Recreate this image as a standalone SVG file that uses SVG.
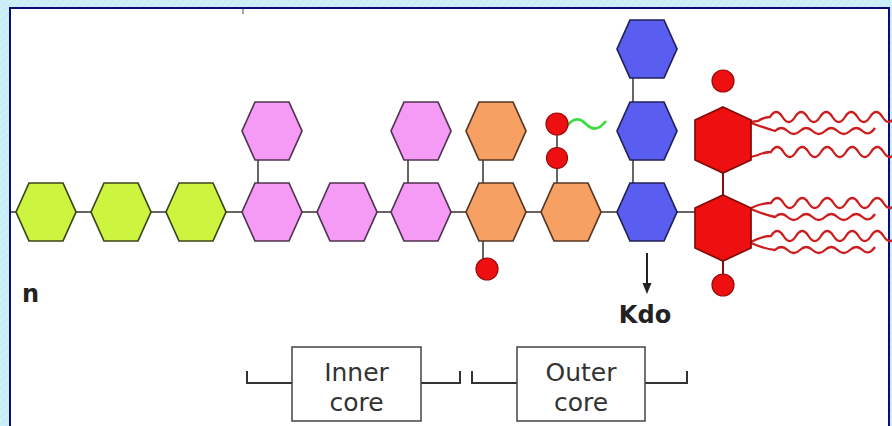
<svg xmlns="http://www.w3.org/2000/svg" width="892" height="426" viewBox="0 0 892 426">
  <defs>
    <pattern id="frameTex" width="5" height="5" patternUnits="userSpaceOnUse" patternTransform="rotate(45)">
      <rect width="5" height="5" fill="#cdeff9"/>
      <line x1="0" y1="0" x2="0" y2="5" stroke="#c0e8f5" stroke-width="1.5"/>
    </pattern>
    <polygon id="hex" points="-30,0 -17,-29 17,-29 30,0 17,29 -17,29"/>
    <polygon id="hexV" points="0,-33 28,-20 28,20 0,33 -28,20 -28,-20"/>
  </defs>
  <style>
    .link { stroke: #666; stroke-width: 2; fill: none; }
    .redlink { stroke: #8a1010; stroke-width: 2; fill: none; }
    .green { fill: #cdf53f; stroke: #3a4518; stroke-width: 1.7; }
    .pink { fill: #f59af5; stroke: #4f354f; stroke-width: 1.7; }
    .orange { fill: #f6a064; stroke: #553624; stroke-width: 1.7; }
    .blue { fill: #5a5ef0; stroke: #20205a; stroke-width: 1.7; }
    .red { fill: #ee1010; stroke: #820a0a; stroke-width: 1.7; }
    .dot { fill: #ee1010; stroke: #9a0a0a; stroke-width: 1.2; }
    .chain { stroke: #cc1e1e; stroke-width: 2.3; fill: none; }
    .label { font-family: "DejaVu Sans", "Liberation Sans", sans-serif; fill: #222; }
    .boxtext { font-family: "DejaVu Sans", "Liberation Sans", sans-serif; font-size: 25px; fill: #333; text-anchor: middle; }
    .bracket { stroke: #333; stroke-width: 2; fill: none; }
    .box { fill: #fff; stroke: #444; stroke-width: 1.5; }
  </style>

  <!-- frame and panel -->
  <rect width="892" height="426" fill="url(#frameTex)"/>
  <rect x="10" y="8" width="879" height="430" fill="#fff" stroke="#0c0c78" stroke-width="2"/>
  <line x1="243" y1="9" x2="243" y2="14" stroke="#555" stroke-width="1"/>

  <!-- connectors -->
  <g id="connectors">
    <line class="link" x1="11" y1="212" x2="696" y2="212"/>
    <line class="link" x1="258" y1="158" x2="258" y2="185"/>
    <line class="link" x1="408" y1="158" x2="408" y2="185"/>
    <line class="link" x1="483" y1="158" x2="483" y2="185"/>
    <line class="link" x1="483" y1="240" x2="483" y2="262"/>
    <line class="link" x1="557" y1="130" x2="557" y2="185"/>
    <line class="link" x1="633" y1="76" x2="633" y2="104"/>
    <line class="link" x1="633" y1="158" x2="633" y2="185"/>
    <line class="redlink" x1="723" y1="172" x2="723" y2="196"/>
    <line class="redlink" x1="723" y1="260" x2="723" y2="276"/>
    <path d="M567,126 C574,117 580,118 586,124 S598,131 606,121" stroke="#3fdc3f" stroke-width="2.8" fill="none"/>
    <line x1="647" y1="253" x2="647" y2="286" stroke="#222" stroke-width="2"/>
    <polygon points="642.5,283 651.5,283 647,294" fill="#222"/>
  </g>

  <!-- O-antigen repeat units -->
  <g id="o-antigen-1"><use href="#hex" x="46" y="212" class="green"/></g>
  <g id="o-antigen-2"><use href="#hex" x="121" y="212" class="green"/></g>
  <g id="o-antigen-3"><use href="#hex" x="196" y="212" class="green"/></g>

  <!-- inner core sugars -->
  <g id="inner-core-1">
    <use href="#hex" x="272" y="131" class="pink"/>
    <use href="#hex" x="272" y="212" class="pink"/>
  </g>
  <g id="inner-core-2"><use href="#hex" x="347" y="212" class="pink"/></g>
  <g id="inner-core-3">
    <use href="#hex" x="421" y="131" class="pink"/>
    <use href="#hex" x="421" y="212" class="pink"/>
  </g>

  <!-- outer core sugars with phosphates -->
  <g id="outer-core-1">
    <use href="#hex" x="496" y="131" class="orange"/>
    <use href="#hex" x="496" y="212" class="orange"/>
    <circle class="dot" cx="487" cy="269" r="11"/>
  </g>
  <g id="outer-core-2">
    <use href="#hex" x="571" y="212" class="orange"/>
    <circle class="dot" cx="557" cy="158" r="10.5"/>
    <circle class="dot" cx="557" cy="124" r="11"/>
  </g>

  <!-- Kdo residues -->
  <g id="kdo">
    <use href="#hex" x="647" y="49" class="blue"/>
    <use href="#hex" x="647" y="131" class="blue"/>
    <use href="#hex" x="647" y="212" class="blue"/>
  </g>

  <!-- lipid A -->
  <g id="lipid-a">
    <path class="chain" d="M751,122 L758,121 Q764,117 770,117 q6.25,-10 12.5,0 t12.5,0 t12.5,0 t12.5,0 t12.5,0 t12.5,0 t12.5,0 t12.5,0 t12.5,0 t12.5,0"/>
    <path class="chain" d="M751,123 Q765,128 775,131 q6.25,-6 12.5,0 t12.5,0 t12.5,0 t12.5,0 t12.5,0 t12.5,0 t12.5,0 t12.5,-3"/>
    <path class="chain" d="M751,157 L758,155 Q765,152 771,152 q6.25,-10 12.5,0 t12.5,0 t12.5,0 t12.5,0 t12.5,0 t12.5,0 t12.5,0 t12.5,0 t12.5,0 t12.5,0"/>
    <path class="chain" d="M751,208 Q762,203 771,203 q6.25,-10 12.5,0 t12.5,0 t12.5,0 t12.5,0 t12.5,0 t12.5,0 t12.5,0 t12.5,0 t12.5,0 t12.5,0"/>
    <path class="chain" d="M751,209 Q765,215 775,217 q6.25,-6 12.5,0 t12.5,0 t12.5,0 t12.5,0 t12.5,0 t12.5,0 t12.5,0 t12.5,-3"/>
    <path class="chain" d="M751,242 Q762,236 771,236 q6.25,-10 12.5,0 t12.5,0 t12.5,0 t12.5,0 t12.5,0 t12.5,0 t12.5,0 t12.5,0 t12.5,0 t12.5,0"/>
    <path class="chain" d="M751,243 Q765,249 775,250 q6.25,-6 12.5,0 t12.5,0 t12.5,0 t12.5,0 t12.5,0 t12.5,0 t12.5,0 t12.5,-3"/>
    <use href="#hexV" x="723" y="140" class="red"/>
    <use href="#hexV" x="723" y="228" class="red"/>
    <circle class="dot" cx="723" cy="81" r="11"/>
    <circle class="dot" cx="723" cy="285" r="11"/>
  </g>

  <!-- labels -->
  <text class="label" x="22" y="302" font-size="24" font-weight="bold">n</text>
  <text class="label" x="645" y="323" font-size="24" font-weight="bold" text-anchor="middle">Kdo</text>

  <!-- core region brackets -->
  <g id="inner-core-bracket">
    <path class="bracket" d="M247,371 V383 H292 M421,383 H460 V371"/>
    <rect class="box" x="292" y="347" width="129" height="74"/>
    <text class="boxtext" x="356.5" y="381">Inner</text>
    <text class="boxtext" x="356.5" y="411">core</text>
  </g>
  <g id="outer-core-bracket">
    <path class="bracket" d="M472,371 V383 H517 M645,383 H687 V371"/>
    <rect class="box" x="517" y="347" width="128" height="74"/>
    <text class="boxtext" x="581" y="381">Outer</text>
    <text class="boxtext" x="581" y="411">core</text>
  </g>
</svg>
